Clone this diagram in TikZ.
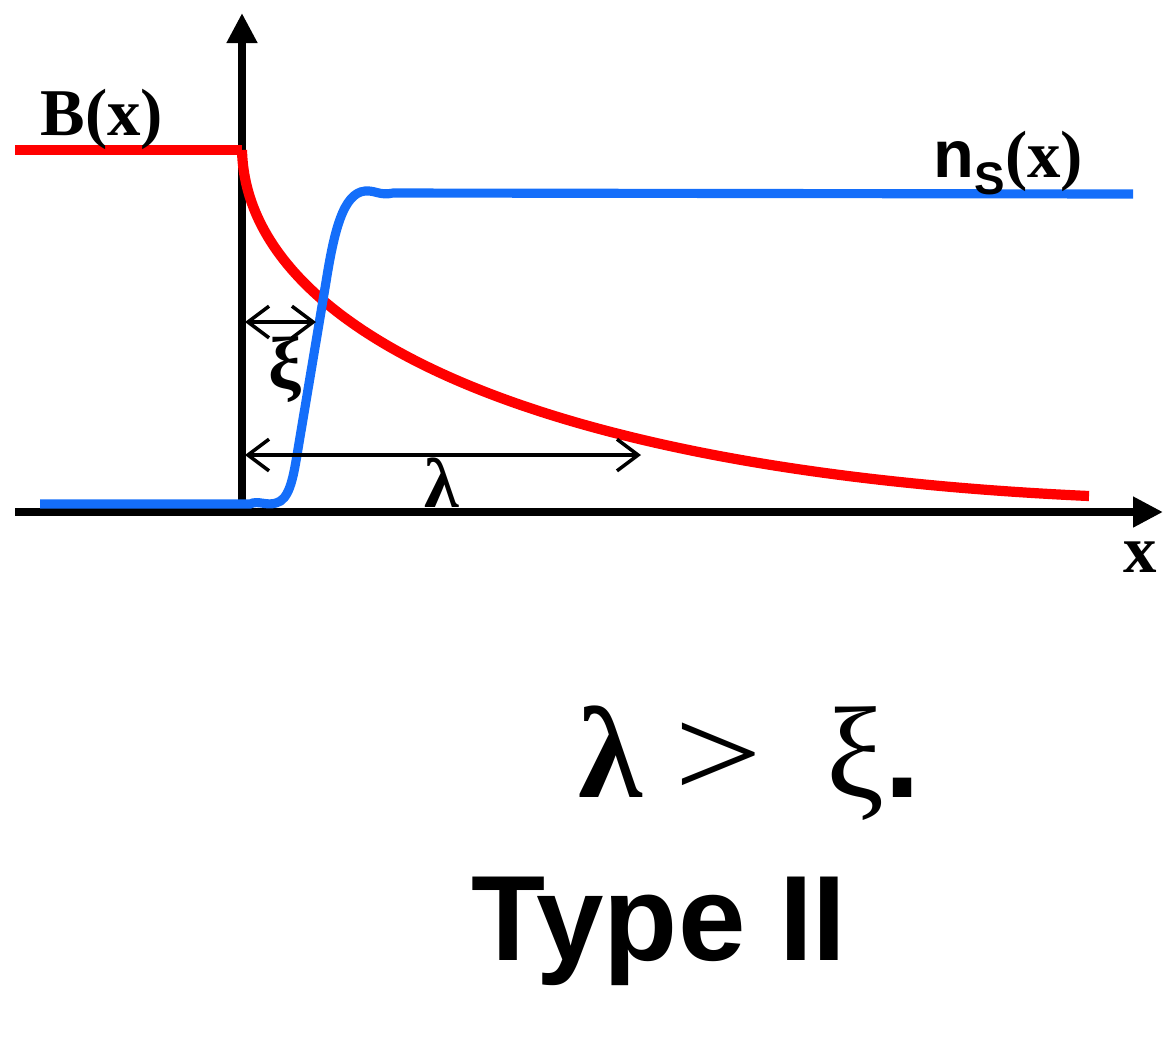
\documentclass[tikz,border=0pt]{standalone}
\usepackage{fontspec}
\setmainfont{Liberation Serif}
\setsansfont{Liberation Sans}
\usetikzlibrary{arrows.meta}
\definecolor{fieldred}{RGB}{255,0,0}
\definecolor{densblue}{RGB}{20,110,250}

\begin{document}
\begin{tikzpicture}[x=0.01cm,y=-0.01cm,
  axis/.style={line width=2.3pt, -{Triangle[length=0.3cm,width=0.29cm]}},
  field/.style={fieldred, line width=2.9pt},
  dens/.style={densblue, line width=2.6pt},
  dim/.style={line width=1pt, {Straight Barb[length=6pt,width=9pt]}-{Straight Barb[length=6pt,width=9pt]}},
  lbl/.style={inner sep=0pt, font=\fontsize{19}{21}\selectfont\bfseries}
]
\useasboundingbox (0,0) rectangle (1176,1038);
% axes
\coordinate (xstart) at (15,512);
\coordinate (xend) at (1163,512);
\coordinate (O) at (242,512);
\coordinate (ytop) at (242,13);
\draw[axis] (xstart) -- (xend);
\draw[axis] (O) -- (ytop);
% field B(x): constant outside, decaying inside
\coordinate (Bleft) at (15,150);
\coordinate (Bedge) at (242,150);
\coordinate (Bend) at (1089,496);
\draw[field] (Bleft) -- (Bedge);
\draw[field] (Bedge) .. controls (246,325) and (520,470) .. (Bend);
% superfluid density n_s(x)
\coordinate (nleft) at (40,504);
\coordinate (nfoot) at (250,504);
\coordinate (nknee) at (393,193);
\coordinate (nright) at (1133,194);
\draw[dens] (nleft) -- (nfoot)
  .. controls (258,500) and (266,506) .. (276,503)
  .. controls (289,500) and (293,479) .. (297,455)
  -- (326,282)
  .. controls (334,232) and (343,193) .. (365,191)
  .. controls (375,190) and (380,196) .. (nknee)
  -- (nright);
% length scales
\coordinate (xi0) at (245,322);
\coordinate (xi1) at (316,322);
\coordinate (la0) at (245,455);
\coordinate (la1) at (641,455);
\draw[dim] (xi0) -- (xi1);
\draw[dim] (la0) -- (la1);
\node[inner sep=0pt, font=\fontsize{21}{23}\selectfont\bfseries] (xilbl) at (285,370) {ξ};
\node[inner sep=0pt, font=\fontsize{20}{22}\selectfont\bfseries] (lalbl) at (442,483) {λ};
% labels
\node[lbl, anchor=base west] (Blbl) at (40,135) {B(x)};
\node[lbl, anchor=base west] (nlbl) at (933,177) {{\sffamily n}\raisebox{-5pt}{\fontsize{13}{14}\selectfont\sffamily S}(x)};
\node[lbl, anchor=base] (xlbl) at (1140,572) {x};
\node[anchor=base west, inner sep=0pt, font=\fontsize{37}{39}\selectfont] (ineq) at (578,797) {\textbf{λ}\hspace{9pt}\scalebox{1.2}[1]{>}\hspace{18pt}ξ\textsf{\textbf{.}}};
\node[anchor=base, inner sep=0pt, font=\sffamily\bfseries\fontsize{34.5}{36}\selectfont] (type) at (659,960) {Type II};
\end{tikzpicture}
\end{document}
